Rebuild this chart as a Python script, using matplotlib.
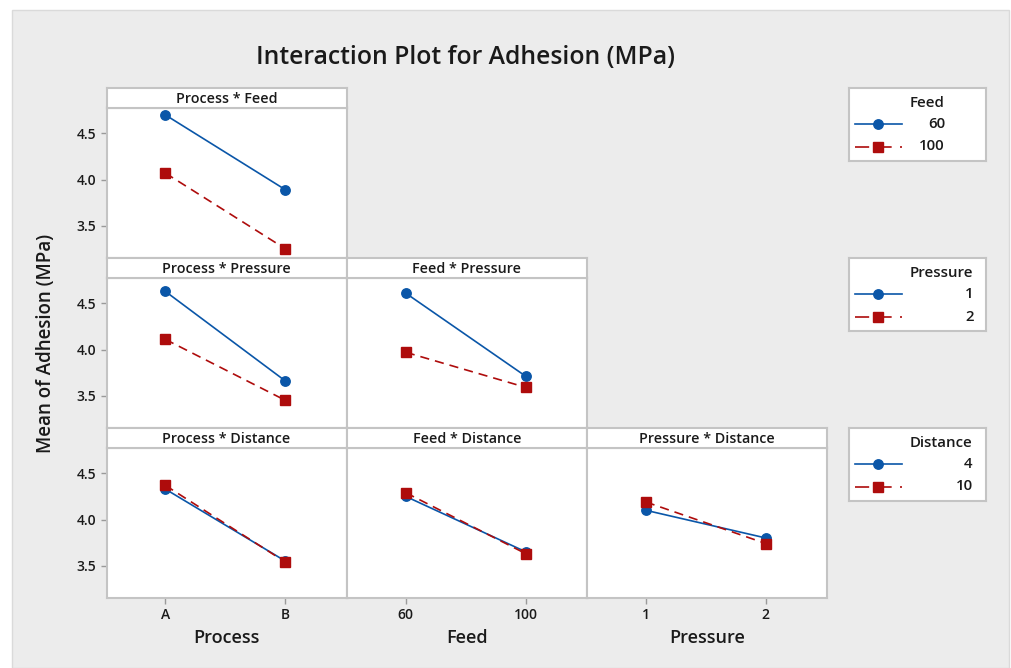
import matplotlib
matplotlib.use("Agg")
import matplotlib.pyplot as plt
from matplotlib.lines import Line2D
from matplotlib.patches import Rectangle

# factor levels
process_levels = ["A", "B"]
feed_levels = ["60", "100"]
pressure_levels = ["1", "2"]
distance_levels = ["4", "10"]

# mean adhesion (MPa) per two-factor combination
proc_feed_60 = [4.70, 3.89]
proc_feed_100 = [4.07, 3.25]
proc_pres_1 = [4.63, 3.66]
proc_pres_2 = [4.11, 3.45]
feed_pres_1 = [4.61, 3.71]
feed_pres_2 = [3.97, 3.59]
proc_dist_4 = [4.33, 3.55]
proc_dist_10 = [4.37, 3.54]
feed_dist_4 = [4.25, 3.65]
feed_dist_10 = [4.29, 3.63]
pres_dist_4 = [4.10, 3.80]
pres_dist_10 = [4.19, 3.74]

col_factors = ["Process", "Feed", "Pressure"]
col_levels = [process_levels, feed_levels, pressure_levels]
row_factors = ["Feed", "Pressure", "Distance"]
row_levels = [feed_levels, pressure_levels, distance_levels]

# (row, col, first trace level, second trace level)
panels = [
    (0, 0, proc_feed_60, proc_feed_100),
    (1, 0, proc_pres_1, proc_pres_2),
    (1, 1, feed_pres_1, feed_pres_2),
    (2, 0, proc_dist_4, proc_dist_10),
    (2, 1, feed_dist_4, feed_dist_10),
    (2, 2, pres_dist_4, pres_dist_10),
]

BLUE = "#0a56a8"
RED = "#ae0c0c"
BG = "#ececec"
EDGE = "#c4c4c4"
TXT = "#1a1a1a"
FONT = "Open Sans"
plt.rcParams["font.family"] = [FONT, "DejaVu Sans"]

W, H = 1011, 668
fig = plt.figure(figsize=(W / 100, H / 100), dpi=100)
fig.patch.set_facecolor("white")
fig.add_artist(Rectangle((12 / W, 0), (1009 - 12) / W, (H - 10) / H,
                         transform=fig.transFigure, facecolor=BG,
                         edgecolor="#dadada", lw=1, zorder=-10))


def px_axes(x0, y0, w, h):
    """Axes placed in pixel units measured from the top-left corner."""
    return fig.add_axes([x0 / W, 1 - (y0 + h) / H, w / W, h / H])


COL_X = [106.5, 347, 587]
COL_W = 240
ROW_Y = [88, 258, 428]
STRIP = 19.5
PLOT_H = 150.5


def style_box(ax, lw=1.5):
    for sp in ax.spines.values():
        sp.set_edgecolor(EDGE)
        sp.set_linewidth(lw)


for r, c, s1, s2 in panels:
    ax = px_axes(COL_X[c], ROW_Y[r] + STRIP, COL_W, PLOT_H)
    xs = list(range(len(col_levels[c])))
    ax.plot(xs, s1, "-o", color=BLUE, lw=1.2, ms=6.8, mec=BLUE, zorder=3)
    ax.plot(xs, s2, "--s", color=RED, lw=1.2, ms=6.5, mec=RED, dashes=(5.5, 3.6), zorder=4)
    ax.set_xlim(-0.49, 1.51)
    ax.set_ylim(3.15, 4.78)
    style_box(ax)
    ax.tick_params(colors="#9a9a9a", labelcolor=TXT, length=4, width=1, labelsize=10)
    if c == 0:
        ax.set_yticks([3.5, 4.0, 4.5])
        ax.set_yticklabels(["3.5", "4.0", "4.5"], fontweight="semibold")
    else:
        ax.set_yticks([])
    if r == 2:
        ax.set_xticks(xs)
        ax.set_xticklabels(col_levels[c], fontweight="semibold")
        ax.set_xlabel(col_factors[c], fontsize=13, fontweight="semibold",
                      color=TXT, labelpad=5)
    else:
        ax.set_xticks([])

    sax = px_axes(COL_X[c], ROW_Y[r], COL_W, STRIP)
    sax.set_xticks([])
    sax.set_yticks([])
    style_box(sax)
    sax.text(0.5, 0.45, f"{col_factors[c]} * {row_factors[r]}", ha="center", va="center",
             fontsize=10.3, fontweight="semibold", color=TXT, transform=sax.transAxes)

fig.text(466 / W, 1 - 57 / H, "Interaction Plot for Adhesion (MPa)", ha="center", va="center",
         fontsize=17.8, fontweight="semibold", color=TXT)
fig.text(46 / W, 1 - 343 / H, "Mean of Adhesion (MPa)", ha="center", va="center",
         rotation=90, fontsize=13.5, fontweight="semibold", color=TXT)

# legend boxes, one per trace factor
leg_titles = []
for r in range(3):
    lax = px_axes(849, ROW_Y[r], 137, 73)
    lax.set_xlim(0, 137)
    lax.set_ylim(73, 0)
    lax.set_xticks([])
    lax.set_yticks([])
    style_box(lax)
    t = lax.text(61, 15, row_factors[r], ha="left", va="center", fontsize=10.8,
                 fontweight="semibold", color=TXT)
    lax.add_line(Line2D([6, 53], [36, 36], color=BLUE, lw=1.2))
    lax.plot([29], [36], "o", color=BLUE, ms=6.8)
    lax.add_line(Line2D([6, 53], [58.5, 58.5], color=RED, lw=1.2, dashes=(8.5, 5)))
    lax.plot([29], [58.5], "s", color=RED, ms=6.5)
    leg_titles.append((lax, t, row_levels[r]))

fig.canvas.draw()
for lax, t, levels in leg_titles:
    bb = t.get_window_extent()
    xr = lax.transData.inverted().transform((bb.x1, bb.y0))[0]
    for lvl, y in zip(levels, [36, 58.5]):
        lax.text(xr, y, lvl, ha="right", va="center", fontsize=10.8,
                 fontweight="semibold", color=TXT)

fig.savefig("out.png", dpi=100, facecolor="white")
